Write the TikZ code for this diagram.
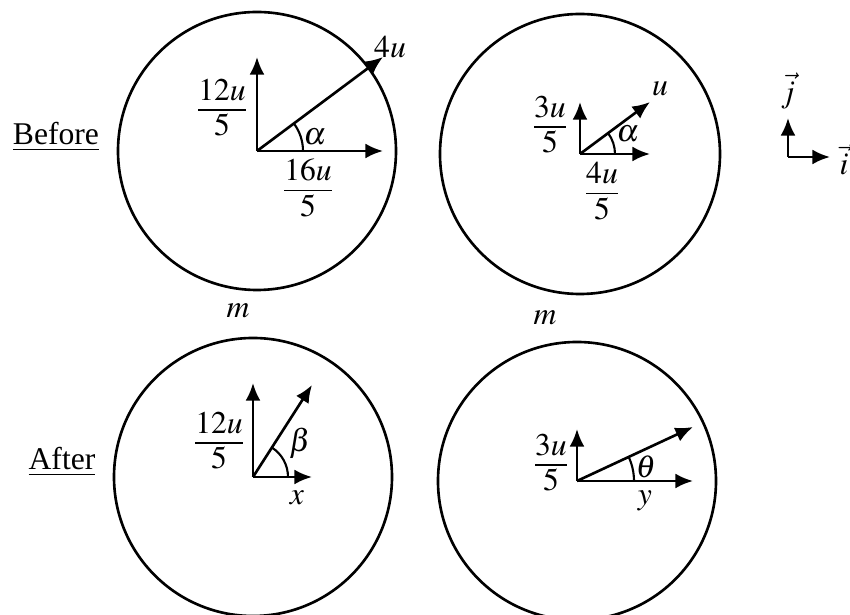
\documentclass[tikz,border=0pt]{standalone}
\usepackage{mathptmx}
\usepackage{fontspec}
\setmainfont{Liberation Serif}
\usetikzlibrary{arrows.meta}

\tikzset{
  vec/.style={line width=1.5pt, -{Latex[length=10pt,width=8.5pt]}},
  ball/.style={line width=1.5pt},
  ang/.style={line width=1.2pt},
}
\newcommand{\fr}[2]{$\frac{\displaystyle #1\mathstrut}{\displaystyle #2\mathstrut}$}

\begin{document}
\begin{tikzpicture}[x=0.02cm,y=0.02cm,font=\fontsize{18}{21}\selectfont]
\useasboundingbox (0,0) rectangle (850,615);

\coordinate (o1) at (257,464);
\coordinate (o2) at (580,461);
\coordinate (o3) at (253,138);
\coordinate (o4) at (577,134);
\coordinate (oij) at (788,458);

\coordinate (v1x) at (383,464);
\coordinate (v1y) at (257,558);
\coordinate (v1) at (383,558);
\coordinate (v2x) at (650,461);
\coordinate (v2y) at (580,513);
\coordinate (v2) at (650,513);
\coordinate (v3x) at (312,138);
\coordinate (v3y) at (253,232);
\coordinate (v3) at (312,230);
\coordinate (v4x) at (693,134);
\coordinate (v4y) at (577,186);
\coordinate (v4) at (693,188);
\coordinate (ij) at (830,458);
\coordinate (jj) at (788,497);

\draw[ball] (o1) circle[radius=139];
\draw[ball] (o2) circle[radius=140];
\draw[ball] (o3) circle[radius=139];
\draw[ball] (o4) circle[radius=139];

\draw[vec] (o1) -- (v1y);
\draw[vec] (o1) -- (v1x);
\draw[vec] (o1) -- (v1);
\draw[vec] (o2) -- (v2y);
\draw[vec] (o2) -- (v2x);
\draw[vec] (o2) -- (v2);
\draw[vec] (o3) -- (v3y);
\draw[vec] (o3) -- (v3x);
\draw[vec] (o3) -- (v3);
\draw[vec] (o4) -- (v4y);
\draw[vec] (o4) -- (v4x);
\draw[vec] (o4) -- (v4);
\draw[vec] (oij) -- (jj);
\draw[vec] (oij) -- (ij);

\draw[ang] (o1) ++(0:46) arc (0:36.7:46);
\draw[ang] (o2) ++(0:35) arc (0:36.6:35);
\draw[ang] (o3) ++(0:35) arc (0:57.3:35);
\draw[ang] (o4) ++(0:57) arc (0:25:57);

\node (before) at (56,478) {\underline{Before}};
\node (after) at (62,153) {\underline{After}};
\node (m1) at (238,304) {$m$};
\node (m2) at (545,297) {$m$};

\node[anchor=east, inner sep=1pt] (l1y) at (250,505) {\fr{12u}{5}};
\node[anchor=north, inner sep=1pt] (l1x) at (308,460) {\fr{16u}{5}};
\node (a1) at (315,478) {$\alpha$};
\node (l1) at (390,568) {$4u$};

\node[anchor=east, inner sep=1pt] (l2y) at (570,488) {\fr{3u}{5}};
\node[anchor=north, inner sep=1pt] (l2x) at (602,457) {\fr{4u}{5}};
\node (a2) at (628,481) {$\alpha$};
\node (l2) at (660,526) {$u$};

\node[anchor=east, inner sep=1pt] (l3y) at (247,172) {\fr{12u}{5}};
\node (b3) at (300,172) {$\beta$};
\node (x3) at (297,117) {$x$};

\node[anchor=east, inner sep=1pt] (l4y) at (571,150) {\fr{3u}{5}};
\node (t4) at (646,148) {$\theta$};
\node (y4) at (645,114) {$y$};

\node (jl) at (788,524) {$\vec{j}$};
\node (il) at (844,455) {$\vec{i}$};
\end{tikzpicture}
\end{document}
